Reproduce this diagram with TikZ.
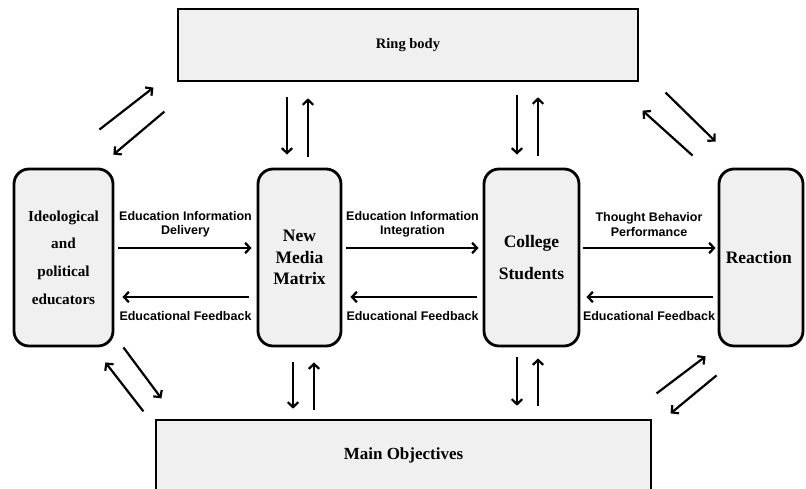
\documentclass[tikz,border=0pt]{standalone}
\usepackage{fontspec}
\setmainfont{Liberation Serif}
\setsansfont{Liberation Sans}
\usepackage{tikz}
\usetikzlibrary{shapes, calc, arrows.meta}
\definecolor{boxgray}{HTML}{F0F0F0}

\begin{document}
\begin{tikzpicture}[x=1pt, y=1pt]
		\tikzstyle{block}=[rectangle, draw, line width=2.8pt, fill=boxgray, align=center]
		\tikzstyle{pill}=[block, rounded corners=15pt, minimum height=177pt]
		\tikzstyle{bar}=[block, line width=2.6pt]
		\tikzstyle{arr}=[line width=2.2pt, -{Straight Barb[length=5pt, width=10.5pt]}]
		\tikzstyle{lbl}=[font=\sffamily\bfseries\fontsize{12.5}{14.5}\selectfont, align=center, inner sep=0pt]

		\useasboundingbox (0,0) rectangle (806,488);

		\node[bar, minimum width=460pt, minimum height=72pt, font=\bfseries\fontsize{14.5}{17}\selectfont] (ring) at (408,443) {Ring body};
		\node[bar, minimum width=495pt, minimum height=70pt, font=\bfseries\fontsize{17}{20}\selectfont] (goal) at (403.5,33) {Main Objectives};

		\node[pill, minimum width=99pt, font=\bfseries\fontsize{15.2}{27.7}\selectfont] (ideo) at (63.5,230.5) {
			Ideological\\and\\political\\educators
		};
		\node[pill, minimum width=83pt, font=\bfseries\fontsize{17.5}{21.5}\selectfont] (nmm) at (299.5,230.5) {
			New\\Media\\Matrix
		};
		\node[pill, minimum width=95pt, font=\bfseries\fontsize{17.5}{32}\selectfont] (coll) at (531.5,230.5) {
			College\\Students
		};
		\node[pill, minimum width=84pt, font=\bfseries\fontsize{17.5}{21}\selectfont] (react) at (761,230.5) {
			Reaction
		};

		\draw[arr, shorten <=4pt, shorten >=5pt] ($(ideo.east)+(0,9.5)$) -- node[lbl, yshift=23.5pt] {Education Information\\Delivery} ($(nmm.west)+(0,9.5)$);
		\draw[arr, shorten <=8pt, shorten >=8pt] ($(nmm.west)+(0,-39.5)$) -- node[lbl, yshift=-19pt] {Educational Feedback} ($(ideo.east)+(0,-39.5)$);
		\draw[arr, shorten <=4pt, shorten >=4pt] ($(nmm.east)+(0,9.5)$) -- node[lbl, yshift=23.5pt] {Education Information\\Integration} ($(coll.west)+(0,9.5)$);
		\draw[arr, shorten <=6pt, shorten >=8pt] ($(coll.west)+(0,-39.5)$) -- node[lbl, yshift=-19pt] {Educational Feedback} ($(nmm.east)+(0,-39.5)$);
		\draw[arr, shorten <=3pt, shorten >=2pt] ($(coll.east)+(0,9.5)$) -- node[lbl, yshift=23.5pt] {Thought Behavior\\Performance} ($(react.west)+(0,9.5)$);
		\draw[arr, shorten <=5pt, shorten >=6pt] ($(react.west)+(0,-39.5)$) -- node[lbl, yshift=-19pt] {Educational Feedback} ($(coll.east)+(0,-39.5)$);

		\draw[arr, shorten <=15pt, shorten >=13pt] ($(nmm.north |- ring.south)+(-12.5,0)$) -- ($(nmm.north)+(-12.5,0)$);
		\draw[arr, shorten <=11pt, shorten >=16pt] ($(nmm.north)+(8.5,0)$) -- ($(nmm.north |- ring.south)+(8.5,0)$);
		\draw[arr, shorten <=13pt, shorten >=13pt] ($(coll.north |- ring.south)+(-14.5,0)$) -- ($(coll.north)+(-14.5,0)$);
		\draw[arr, shorten <=12pt, shorten >=15pt] ($(coll.north)+(6.5,0)$) -- ($(coll.north |- ring.south)+(6.5,0)$);

		\draw[arr, shorten <=15pt, shorten >=10pt] ($(nmm.south)+(-6.5,0)$) -- ($(nmm.south |- goal.north)+(-6.5,0)$);
		\draw[arr, shorten <=9pt, shorten >=15pt] ($(nmm.south |- goal.north)+(14.5,0)$) -- ($(nmm.south)+(14.5,0)$);
		\draw[arr, shorten <=10pt, shorten >=13pt] ($(coll.south)+(-14.5,0)$) -- ($(coll.south |- goal.north)+(-14.5,0)$);
		\draw[arr, shorten <=13pt, shorten >=11pt] ($(coll.south |- goal.north)+(6.5,0)$) -- ($(coll.south)+(6.5,0)$);

		\draw[arr] ($(ideo.north east)+(-15,38)$) -- ($(ideo.north east)+(39,80)$);
		\draw[arr] ($(ideo.north east)+(50,56)$) -- ($(ideo.north east)+(-1,13)$);
		\draw[arr] ($(react.north west)+(-52,75)$) -- ($(react.north west)+(-2,26)$);
		\draw[arr] ($(react.north west)+(-25,12)$) -- ($(react.north west)+(-75,57)$);
		\draw[arr] ($(ideo.south east)+(9,0)$) -- ($(ideo.south east)+(47,-51)$);
		\draw[arr] ($(ideo.south east)+(29,-64)$) -- ($(ideo.south east)+(-9,-15)$);
		\draw[arr] ($(react.south west)+(-61,-46)$) -- ($(react.south west)+(-12,-9)$);
		\draw[arr] ($(react.south west)+(-1,-28)$) -- ($(react.south west)+(-47,-66)$);

	\end{tikzpicture}
\end{document}
